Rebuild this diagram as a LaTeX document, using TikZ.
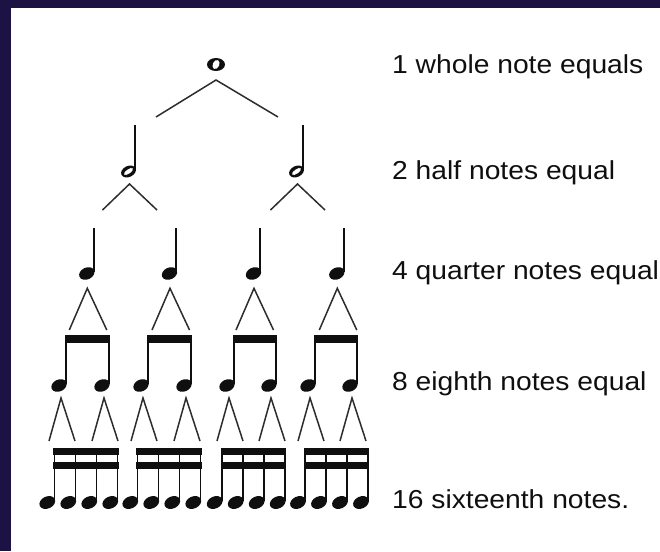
\documentclass[tikz,border=0pt]{standalone}
\usepackage{fontspec}
\setmainfont{Liberation Sans}
\usetikzlibrary{shapes.geometric,calc}
\definecolor{framecol}{RGB}{28,18,68}
\definecolor{ink}{RGB}{15,15,15}
\definecolor{branchcol}{RGB}{45,45,45}
\begin{document}
\begin{tikzpicture}[x=1pt,y=-1pt,
  head/.style={ellipse, fill=ink, inner sep=0pt, minimum width=16pt, minimum height=11.8pt, rotate=25},
  headsx/.style={ellipse, fill=ink, inner sep=0pt, minimum width=16.5pt, minimum height=12pt, rotate=25},
  hole/.style={ellipse, fill=white, inner sep=0pt},
  stem/.style={line width=2pt, ink},
  stemsx/.style={line width=1.6pt, ink},
  branch/.style={line width=1.5pt, branchcol},
  txt/.style={anchor=base west, inner sep=0pt, text=ink, font=\fontsize{26}{30}\selectfont}]
\useasboundingbox (0,0) rectangle (660,551);
\fill[framecol] (0,0) rectangle (660,551);
\fill[white] (11,8) rectangle (660,551);
% whole note
\node[ellipse, fill=ink, inner sep=0pt, minimum width=18pt, minimum height=13pt] (w) at (216,64.5) {};
\node[hole, minimum width=6.5pt, minimum height=9.5pt, rotate=-25] (wo) at (w) {};
\coordinate (wa) at (216,80);
\coordinate (wl) at (156,117);
\coordinate (wr) at (278,117);
\draw[branch] (wl) -- (wa) -- (wr);
% half notes
\foreach \i/\x in {1/128.5, 2/296.5} {
  \node[head, minimum width=15.5pt, minimum height=11pt] (h\i) at (\x,171.5) {};
  \node[hole, minimum width=10.5pt, minimum height=4.3pt, rotate=35] (h\i o) at (h\i) {};
  \draw[stem] (\x+6.7,125) -- (\x+6.7,171);
  \draw[branch] (\x-26,210) -- (\x+1,184) -- (\x+28.5,210);
}
% quarter notes
\foreach \i/\x in {1/86.8, 2/169.5, 3/253.5, 4/336.8} {
  \node[head] (q\i) at (\x,273.5) {};
  \draw[stem] (\x+6.7,228) -- (\x+6.7,272);
  \draw[branch] (\x-17.5,330) -- (\x+0.5,288.3) -- (\x+20,330);
}
% eighth notes
\foreach \g/\L/\R in {1/66/109, 2/148/191, 3/234/276, 4/315/357} {
  \fill[ink] (\L-1,335) rectangle (\R+1,343);
  \draw[stem] (\L,335) -- (\L,384);
  \draw[stem] (\R,335) -- (\R,384);
  \node[head] (e\g a) at (\L-7,385.5) {};
  \node[head] (e\g b) at (\R-7,385.5) {};
  \draw[branch] (\L-17,441) -- (\L-5,398) -- (\L+9,441);
  \draw[branch] (\R-17,441) -- (\R-5,398) -- (\R+9,441);
}
% sixteenth notes
\foreach \g/\S in {1/54.3, 2/137.3, 3/221.7, 4/305} {
  \fill[ink] (\S-1,448.3) rectangle (\S+64.3,455);
  \fill[ink] (\S-1,461.7) rectangle (\S+64.3,469);
  \foreach \k in {0,...,3} {
    \draw[stemsx] (\S+21*\k,448.3) -- (\S+21*\k,501);
    \node[headsx] (s\g\k) at (\S+21*\k-7,502.5) {};
  }
}
% labels
\node[txt] (t1) at (392,73.1) {\scalebox{1.086}[1]{1 whole note equals}};
\node[txt] (t2) at (392,179.3) {\scalebox{1.086}[1]{2 half notes equal}};
\node[txt] (t3) at (392,279.8) {\scalebox{1.086}[1]{4 quarter notes equal}};
\node[txt] (t4) at (392,390.3) {\scalebox{1.086}[1]{8 eighth notes equal}};
\node[txt] (t5) at (392,508.3) {\scalebox{1.086}[1]{16 sixteenth notes.}};
\end{tikzpicture}
\end{document}
